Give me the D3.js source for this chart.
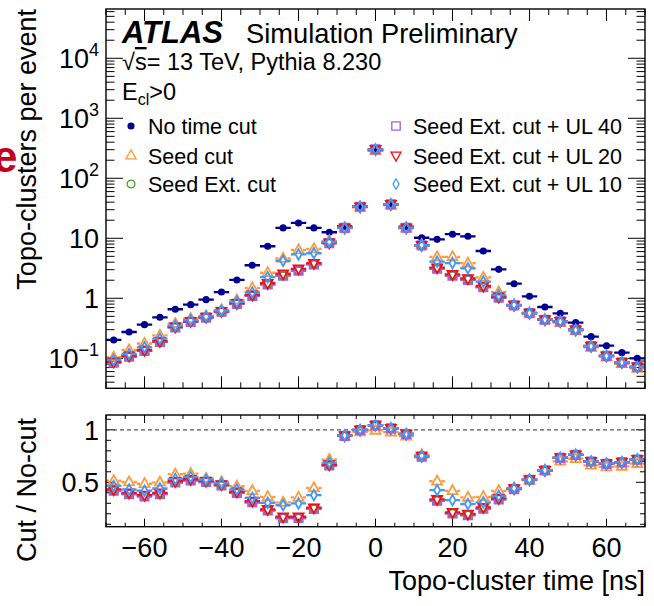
<!DOCTYPE html>
<html><head><meta charset="utf-8">
<script src="https://cdn.jsdelivr.net/npm/d3@7"></script>
<style>
body{margin:0;background:#fff}
svg{display:block}
text{font-family:"Liberation Sans",Arial,Helvetica,sans-serif;fill:#000}
</style>
</head><body>
<svg id="chart" width="654" height="606"></svg>
<script>
// Topo-cluster time bins (bin centres, ns), 4 ns wide
const timeBins = [-68,-64,-60,-56,-52,-48,-44,-40,-36,-32,-28,-24,-20,-16,-12,-8,-4,0,4,8,12,16,20,24,28,32,36,40,44,48,52,56,60,64,68];

// Topo-clusters per event without any time cut
const noCut = [0.202,0.274,0.363,0.482,0.656,0.782,0.948,1.27,2.02,3.55,7.36,14.9,18.0,14.9,12.6,15.8,33.6,290,36.4,15.6,10.2,9.6,11.7,10.8,6.14,3.04,1.75,1.08,0.716,0.562,0.392,0.229,0.162,0.124,0.100];

// Cut / No-cut ratios per selection
const ratioSeed = [0.515,0.503,0.486,0.500,0.577,0.583,0.536,0.504,0.463,0.419,0.362,0.309,0.356,0.447,0.716,0.940,0.980,0.995,0.978,0.940,0.763,0.510,0.419,0.356,0.362,0.419,0.447,0.520,0.610,0.700,0.725,0.662,0.646,0.652,0.678];
const ratioSeedExt = [0.420,0.388,0.365,0.388,0.500,0.518,0.503,0.470,0.400,0.310,0.232,0.160,0.160,0.247,0.660,0.942,0.998,1.043,1.013,0.960,0.745,0.326,0.204,0.188,0.250,0.338,0.435,0.524,0.613,0.733,0.762,0.698,0.676,0.690,0.716];
const ratioUL40 = [0.420,0.388,0.365,0.388,0.500,0.518,0.503,0.470,0.400,0.310,0.232,0.160,0.160,0.247,0.660,0.942,0.998,1.043,1.013,0.960,0.745,0.326,0.204,0.188,0.250,0.338,0.435,0.524,0.613,0.733,0.762,0.698,0.676,0.690,0.716];
const ratioUL20 = [0.432,0.400,0.378,0.400,0.510,0.529,0.513,0.479,0.410,0.321,0.242,0.172,0.172,0.258,0.669,0.946,1.000,1.045,1.015,0.962,0.750,0.337,0.214,0.198,0.261,0.347,0.440,0.526,0.615,0.735,0.763,0.700,0.678,0.693,0.719];
const ratioUL10 = [0.465,0.430,0.420,0.441,0.532,0.551,0.526,0.489,0.432,0.352,0.305,0.283,0.299,0.378,0.688,0.946,1.000,1.045,1.015,0.962,0.750,0.425,0.330,0.293,0.309,0.371,0.441,0.526,0.615,0.735,0.763,0.700,0.680,0.693,0.719];

// Axis ticks
const xMajorTicks = [-60,-40,-20,0,20,40,60];
const yDecades = [-1,0,1,2,3,4];
const ratioMajorTicks = [0.5,1];

const binWidth = 4;

const series = [
  {name:"Seed cut", ratio:ratioSeed, color:"#ff9a3c", shape:"triUp"},
  {name:"Seed Ext. cut", ratio:ratioSeedExt, color:"#3fa52a", shape:"circle"},
  {name:"Seed Ext. cut + UL 40", ratio:ratioUL40, color:"#a35ce6", shape:"square"},
  {name:"Seed Ext. cut + UL 20", ratio:ratioUL20, color:"#f01010", shape:"triDown"},
  {name:"Seed Ext. cut + UL 10", ratio:ratioUL10, color:"#3f98ff", shape:"diamond"}
];
const noCutStyle = {name:"No time cut", color:"#000090", shape:"dot"};

const svg = d3.select("#chart");
const L = 106, R = 645;
const top1 = 9, bot1 = 388.3;
const top2 = 415, bot2 = 526.7;

const x = d3.scaleLinear().domain([-70,70]).range([L,R]);
const y = d3.scaleLog().domain([0.0316,66300]).range([bot1,top1]);
const yr = d3.scaleLinear().domain([0.077,1.141]).range([bot2,top2]);

// marker shapes
function shapePath(shape){
  switch(shape){
    case "triUp": return "M0,-5.6L5,3.4L-5,3.4Z";
    case "triDown": return "M0,5.6L5,-3.4L-5,-3.4Z";
    case "square": return "M-4.2,-4.2H4.2V4.2H-4.2Z";
    case "diamond": return "M0,-5.3L3,0L0,5.3L-3,0Z";
    case "circle": return d3.symbol(d3.symbolCircle, 48)();
    case "dot": return d3.symbol(d3.symbolCircle, 40)();
  }
}
const halfW = {triUp:4.5, triDown:4.5, square:4.2, diamond:3, circle:3.9, dot:0};

// ---------- clip paths
const defs = svg.append("defs");
defs.append("clipPath").attr("id","clipTop").append("rect").attr("x",L).attr("y",top1).attr("width",R-L).attr("height",bot1-top1);
defs.append("clipPath").attr("id","clipRat").append("rect").attr("x",L).attr("y",top2).attr("width",R-L).attr("height",bot2-top2);

// ---------- ticks helper
function ticksX(yPos, majLen, minLen, inward){
  const g = svg.append("g").attr("stroke","#000").attr("stroke-width",1);
  const minor = d3.range(-70,70.01,5);
  minor.forEach(t=>{
    const len = xMajorTicks.includes(t) ? majLen : minLen;
    g.append("line").attr("x1",x(t)).attr("x2",x(t)).attr("y1",yPos).attr("y2",yPos+inward*len);
  });
}
function drawYTicks(values, scale, xPos, dir){
  const g = svg.append("g").attr("stroke","#000").attr("stroke-width",1);
  values.forEach(v=>{
    g.append("line").attr("x1",xPos).attr("x2",xPos+dir*v.len).attr("y1",scale(v.v)).attr("y2",scale(v.v));
  });
}

// ---------- upper panel ticks
const logTicks = [];
for (let k=-2;k<=4;k++){
  for (let m=1;m<=9;m++){
    const v = m*Math.pow(10,k);
    if (v>=0.0316 && v<=66300) logTicks.push({v:v, len: m===1?17:8.5});
  }
}
drawYTicks(logTicks, y, L, 1);
drawYTicks(logTicks, y, R, -1);
ticksX(bot1, 12, 6, -1);
ticksX(top1, 12, 6, 1);

// ---------- ratio panel ticks
const ratTicks = d3.range(0.1,1.101,0.1).map(v=>({v:v, len: ratioMajorTicks.some(m=>Math.abs(m-v)<1e-6)?9:5}));
drawYTicks(ratTicks, yr, L, 1);
drawYTicks(ratTicks, yr, R, -1);
ticksX(bot2, 8, 4, -1);
ticksX(top2, 8, 4, 1);

// dashed unity line
svg.append("line").attr("x1",L).attr("x2",R).attr("y1",yr(1)).attr("y2",yr(1))
  .attr("stroke","#555").attr("stroke-width",1.2).attr("stroke-dasharray","4,3");

// ---------- data drawing
function drawSeries(parent, vals, style, yScale){
  const g = parent.append("g");
  const hw = halfW[style.shape];
  timeBins.forEach((t,i)=>{
    const v = vals[i];
    const cx = x(t), cy = yScale(v);
    const xl = x(t-binWidth/2), xr = x(t+binWidth/2);
    g.append("line").attr("x1",xl).attr("x2",cx-hw).attr("y1",cy).attr("y2",cy)
      .attr("stroke",style.color).attr("stroke-width",2.3);
    g.append("line").attr("x1",cx+hw).attr("x2",xr).attr("y1",cy).attr("y2",cy)
      .attr("stroke",style.color).attr("stroke-width",2.3);
  });
  timeBins.forEach((t,i)=>{
    const cx = x(t), cy = yScale(vals[i]);
    const p = g.append("path").attr("d",shapePath(style.shape)).attr("transform",`translate(${cx},${cy})`);
    if (style.shape==="dot") p.attr("fill",style.color);
    else p.attr("fill","none").attr("stroke",style.color).attr("stroke-width",1.8);
  });
}

const gTop = svg.append("g").attr("clip-path","url(#clipTop)");
drawSeries(gTop, noCut, noCutStyle, y);
series.forEach(s=>{
  const counts = noCut.map((n,i)=>n*s.ratio[i]);
  drawSeries(gTop, counts, s, y);
});

const gRat = svg.append("g").attr("clip-path","url(#clipRat)");
series.forEach(s=> drawSeries(gRat, s.ratio, s, yr));

// ---------- frames
svg.append("rect").attr("x",L).attr("y",top1).attr("width",R-L).attr("height",bot1-top1)
  .attr("fill","none").attr("stroke","#000").attr("stroke-width",1.4);
svg.append("rect").attr("x",L).attr("y",top2).attr("width",R-L).attr("height",bot2-top2)
  .attr("fill","none").attr("stroke","#000").attr("stroke-width",1.4);

// ---------- y tick labels (upper, log)
yDecades.forEach(k=>{
  const yy = y(Math.pow(10,k)) + 10;
  const t = svg.append("text").attr("x",99).attr("y",yy).attr("text-anchor","end").attr("font-size",27);
  if (k===0) t.text("1");
  else if (k===1) t.text("10");
  else {
    t.append("tspan").text("10");
    t.append("tspan").attr("font-size",18).attr("dy",-12).text(k<0 ? "\u2212"+(-k) : String(k));
  }
});

// ratio y tick labels
ratioMajorTicks.forEach(v=>{
  svg.append("text").attr("x",99).attr("y",yr(v)+10).attr("text-anchor","end").attr("font-size",27)
    .text(v===1 ? "1" : "0.5");
});

// x tick labels
xMajorTicks.forEach(t=>{
  svg.append("text").attr("x",x(t)).attr("y",557).attr("text-anchor","middle").attr("font-size",27)
    .text(t<0 ? "\u2212"+(-t) : String(t));
});

// axis titles
svg.append("text").attr("x",R).attr("y",590).attr("text-anchor","end").attr("font-size",27)
  .text("Topo-cluster time [ns]");
svg.append("text").attr("transform","translate(36,9) rotate(-90)").attr("text-anchor","end").attr("font-size",27)
  .text("Topo-clusters per event");
svg.append("text").attr("transform","translate(36,418) rotate(-90)").attr("text-anchor","end").attr("font-size",27)
  .text("Cut / No-cut");

// ---------- ATLAS label block
const atl = svg.append("text").attr("x",122).attr("y",43);
atl.append("tspan").attr("font-weight","bold").attr("font-style","italic").attr("font-size",31).text("ATLAS");
atl.append("tspan").attr("x",246).attr("font-size",27.3).text("Simulation Preliminary");

const sq = svg.append("text").attr("x",122).attr("y",70).attr("font-size",23.5);
sq.append("tspan").text("\u221A");
sq.append("tspan").attr("text-decoration","overline").text("s");
sq.append("tspan").text("= 13 TeV, Pythia 8.230");

const ecl = svg.append("text").attr("x",122).attr("y",100).attr("font-size",23.5);
ecl.append("tspan").text("E");
ecl.append("tspan").attr("font-size",16).attr("dy",5).text("cl");
ecl.append("tspan").attr("dy",-5).text(">0");

// ---------- legend
const legendItems = [
  {style:noCutStyle, col:0, row:0},
  {style:series[0], col:0, row:1},
  {style:series[1], col:0, row:2},
  {style:series[2], col:1, row:0},
  {style:series[3], col:1, row:1},
  {style:series[4], col:1, row:2}
];
const legCols = [131, 396];
const legRows = [126, 155.5, 184];
legendItems.forEach(it=>{
  const mx = legCols[it.col], my = legRows[it.row];
  const p = svg.append("path").attr("d",shapePath(it.style.shape)).attr("transform",`translate(${mx},${my})`);
  if (it.style.shape==="dot") p.attr("fill",it.style.color);
  else p.attr("fill","none").attr("stroke",it.style.color).attr("stroke-width",1.3);
  svg.append("text").attr("x",mx+17).attr("y",my+8).attr("font-size",21.5).text(it.style.name);
});

// clipped red glyph at the left edge
svg.append("text").attr("x",-7).attr("y",172).attr("font-size",44).attr("font-weight","bold")
  .style("fill","#c4001c").text("e");
</script>
</body></html>
